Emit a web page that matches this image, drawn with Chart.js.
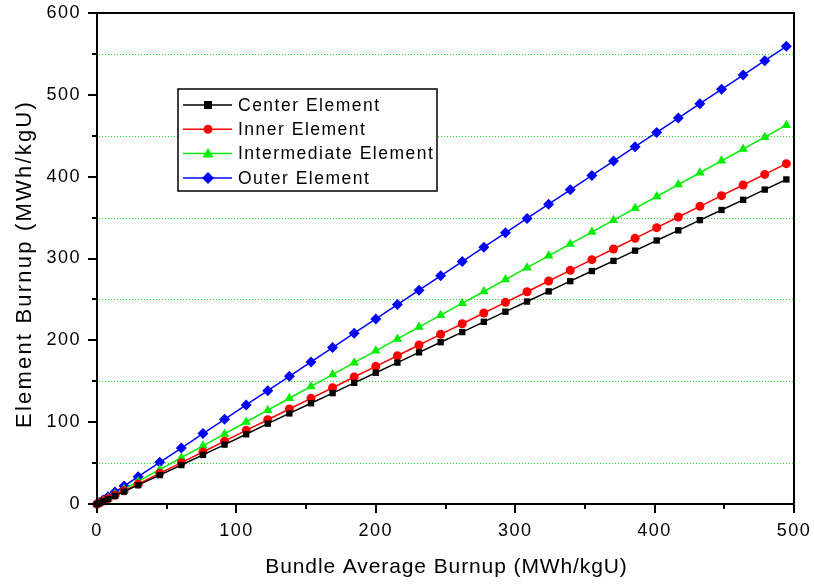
<!DOCTYPE html>
<html>
<head>
<meta charset="utf-8">
<script src="https://cdn.jsdelivr.net/npm/chart.js@4/dist/chart.umd.min.js"></script>
<style>
  html, body { margin: 0; padding: 0; background: #fff; }
  #wrap { width: 814px; height: 584px; }
</style>
</head>
<body>
<div id="wrap"><canvas id="burnupChart" width="814" height="584"></canvas></div>
<script>
// bundle average burnup (MWh/kgU)
const bundleBurnup = [0, 1.5, 4.3, 7.9, 12.9, 19.4, 29.5, 45.0, 60.5, 76.0, 91.5, 107.0, 122.5, 138.0, 153.5, 169.0, 184.5, 200.0, 215.5, 231.0, 246.5, 262.0, 277.5, 293.0, 308.5, 324.0, 339.5, 355.0, 370.5, 386.0, 401.5, 417.0, 432.5, 448.0, 463.5, 479.0, 494.5];

const centerElement = [0, 1.1, 3.3, 6.1, 10.0, 15.2, 23.0, 35.3, 47.6, 60.0, 72.6, 85.2, 98.2, 110.7, 123.1, 135.5, 148.0, 160.4, 172.8, 185.3, 197.7, 210.1, 222.6, 235.0, 247.4, 259.8, 272.3, 284.7, 297.1, 309.6, 322.0, 334.4, 346.9, 359.3, 371.7, 384.2, 396.6];
const innerElement = [0, 1.2, 3.5, 6.5, 10.7, 16.1, 24.4, 37.5, 50.5, 63.6, 76.8, 90.0, 103.0, 116.1, 129.1, 142.1, 155.2, 168.2, 181.2, 194.3, 207.3, 220.3, 233.4, 246.4, 259.4, 272.5, 285.5, 298.6, 311.6, 324.6, 337.7, 350.7, 363.7, 376.8, 389.8, 402.8, 415.9];
const intermediateElement = [0, 1.3, 3.9, 7.3, 12.0, 18.1, 27.6, 42.1, 56.6, 71.1, 85.6, 100.2, 114.7, 129.2, 143.7, 158.2, 172.7, 187.2, 201.7, 216.2, 230.7, 245.2, 259.7, 274.2, 288.8, 303.3, 317.8, 332.3, 346.8, 361.3, 375.8, 390.3, 404.8, 419.3, 433.8, 448.3, 462.9];
const outerElement = [0, 1.7, 4.9, 8.9, 14.6, 21.9, 33.4, 50.9, 68.4, 86.0, 103.5, 121.0, 138.5, 156.1, 173.6, 191.1, 208.7, 226.2, 243.7, 261.3, 278.8, 296.3, 313.9, 331.4, 348.9, 366.4, 384.0, 401.5, 419.0, 436.6, 454.1, 471.6, 489.2, 506.7, 524.2, 541.7, 559.3];

const seriesNames = ['Center Element', 'Inner Element', 'Intermediate Element', 'Outer Element'];
const seriesColors = ['#000000', '#ff0000', '#00ee00', '#0000ff'];
const seriesMarkers = ['rect', 'circle', 'triangle', 'rectRot'];
const seriesValues = [centerElement, innerElement, intermediateElement, outerElement];

const xTitle = 'Bundle Average Burnup (MWh/kgU)';
const yTitle = 'Element Burnup (MWh/kgU)';

const font = '"Liberation Sans", Arial, sans-serif';

function toPoints(ys) {
  return bundleBurnup.map((x, i) => ({ x: x, y: ys[i] }));
}

function drawMarker(ctx, style, cx, cy, color) {
  ctx.fillStyle = color;
  ctx.beginPath();
  if (style === 'rect') {
    ctx.rect(cx - 4, cy - 4, 8, 8);
  } else if (style === 'circle') {
    ctx.arc(cx, cy, 4.5, 0, Math.PI * 2);
  } else if (style === 'triangle') {
    ctx.moveTo(cx, cy - 5.5); ctx.lineTo(cx + 5.5, cy + 4); ctx.lineTo(cx - 5.5, cy + 4);
  } else {
    ctx.moveTo(cx, cy - 6); ctx.lineTo(cx + 6, cy); ctx.lineTo(cx, cy + 6); ctx.lineTo(cx - 6, cy);
  }
  ctx.closePath();
  ctx.fill();
}

// the original text is set a bit wide, so space the letters out
const spacingPlugin = {
  id: 'spacing',
  beforeDraw(chart) { chart.ctx.letterSpacing = '1.5px'; }
};

// green dotted lines at the minor y ticks only (50, 150, ...)
const minorGridPlugin = {
  id: 'minorGrid',
  beforeDatasetsDraw(chart) {
    const { ctx, chartArea: a, scales: { y } } = chart;
    ctx.save();
    ctx.strokeStyle = '#22dd22';
    ctx.lineWidth = 1;
    ctx.setLineDash([1, 2]);
    ctx.beginPath();
    y.ticks.forEach(t => {
      if (t.value % 100 !== 50) return;
      const py = Math.round(y.getPixelForValue(t.value)) + 0.5;
      ctx.moveTo(a.left + 2, py); ctx.lineTo(a.right - 1, py);
    });
    ctx.stroke();
    ctx.restore();
  }
};

// axis frame with outward major/minor ticks, plus the two axis titles
const framePlugin = {
  id: 'frame',
  afterDatasetsDraw(chart) {
    const { ctx, chartArea: a, scales: { x, y } } = chart;
    ctx.save();
    ctx.strokeStyle = '#000';
    ctx.lineWidth = 2;
    ctx.strokeRect(a.left, a.top, a.right - a.left, a.bottom - a.top);
    ctx.beginPath();
    x.ticks.forEach(t => {
      const px = Math.round(x.getPixelForValue(t.value));
      const len = t.value % 100 === 0 ? 9 : 5;
      ctx.moveTo(px, a.bottom); ctx.lineTo(px, a.bottom + len);
    });
    y.ticks.forEach(t => {
      const py = Math.round(y.getPixelForValue(t.value));
      const len = t.value % 100 === 0 ? 9 : 5;
      ctx.moveTo(a.left, py); ctx.lineTo(a.left - len, py);
    });
    ctx.stroke();

    ctx.fillStyle = '#000';
    ctx.textAlign = 'center';
    ctx.textBaseline = 'alphabetic';
    ctx.font = '21px ' + font;
    ctx.letterSpacing = '0.9px';
    ctx.fillText(xTitle, (a.left + a.right) / 2 + 1, 573);
    ctx.font = '22px ' + font;
    ctx.letterSpacing = '2.2px';
    ctx.translate(31, 264);
    ctx.rotate(-Math.PI / 2);
    ctx.fillText(yTitle, 0, 0);
    ctx.restore();
  }
};

// boxed legend: line - marker - line
const legendPlugin = {
  id: 'boxLegend',
  afterDraw(chart) {
    const ctx = chart.ctx;
    const left = 178, top = 89, w = 259, h = 102;
    ctx.save();
    ctx.fillStyle = '#fff';
    ctx.fillRect(left, top, w, h);
    ctx.strokeStyle = '#000';
    ctx.lineWidth = 1.5;
    ctx.strokeRect(left, top, w, h);
    ctx.font = '17.5px ' + font;
    ctx.letterSpacing = '1.5px';
    ctx.textBaseline = 'middle';
    seriesNames.forEach((name, i) => {
      const cy = top + 16 + i * 24.3;
      ctx.strokeStyle = seriesColors[i];
      ctx.lineWidth = 1.5;
      ctx.beginPath();
      ctx.moveTo(left + 5, cy); ctx.lineTo(left + 54, cy);
      ctx.stroke();
      drawMarker(ctx, seriesMarkers[i], left + 30, cy, seriesColors[i]);
      ctx.fillStyle = '#000';
      ctx.fillText(name, left + 60, cy + 1);
    });
    ctx.restore();
  }
};

new Chart(document.getElementById('burnupChart'), {
  type: 'line',
  data: {
    datasets: seriesNames.map((name, i) => ({
      label: name,
      data: toPoints(seriesValues[i]),
      borderColor: seriesColors[i],
      backgroundColor: seriesColors[i],
      borderWidth: 1.5,
      pointStyle: seriesMarkers[i],
      pointRadius: seriesMarkers[i] === 'rectRot' ? 5.5 : (seriesMarkers[i] === 'triangle' ? 5.5 : 4.5),
      pointBorderWidth: 0,
      tension: 0,
      clip: false
    }))
  },
  options: {
    responsive: false,
    animation: false,
    layout: { padding: { left: 0, right: 20, top: 13, bottom: 0 } },
    plugins: { legend: { display: false }, tooltip: { enabled: false } },
    scales: {
      x: {
        type: 'linear',
        min: 0,
        max: 500,
        afterFit(scale) {
          scale.height = 80;
          scale.paddingLeft = 0;
          scale.paddingRight = 0;
        },
        border: { display: false },
        grid: { display: false, drawTicks: false },
        ticks: {
          stepSize: 50,
          padding: 16,
          color: '#000',
          font: { family: font, size: 18 },
          maxRotation: 0,
          autoSkip: false,
          callback: v => (v % 100 === 0 ? v : '')
        }
      },
      y: {
        type: 'linear',
        min: 0,
        max: 600,
        afterFit(scale) {
          scale.width = 97;
          scale.paddingTop = 0;
          scale.paddingBottom = 0;
        },
        border: { display: false },
        grid: { display: false, drawTicks: false },
        ticks: {
          stepSize: 50,
          padding: 16,
          color: '#000',
          font: { family: font, size: 18 },
          autoSkip: false,
          callback: v => (v % 100 === 0 ? v : '')
        }
      }
    }
  },
  plugins: [spacingPlugin, minorGridPlugin, framePlugin, legendPlugin]
});
</script>
</body>
</html>
